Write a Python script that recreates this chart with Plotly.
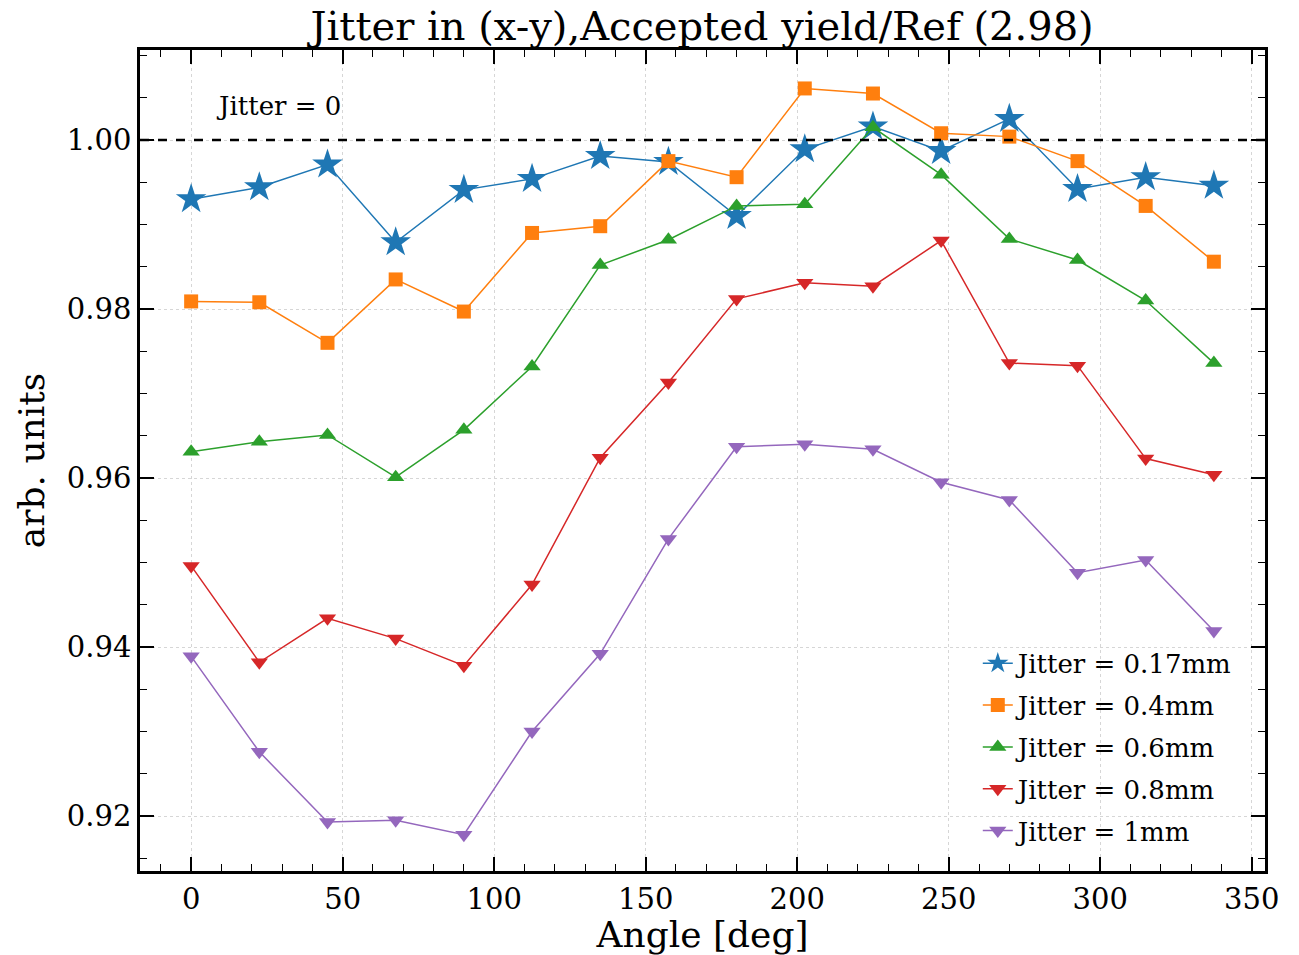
import plotly.graph_objects as go

angles = [0, 22.5, 45, 67.5, 90, 112.5, 135, 157.5, 180, 202.5, 225, 247.5, 270, 292.5, 315, 337.5]

jitter_017 = [0.9930, 0.9944, 0.9971, 0.9879, 0.9941, 0.9954, 0.9981, 0.9974,
              0.9910, 0.9989, 1.0016, 0.9987, 1.0025, 0.9942, 0.9956, 0.9946]
jitter_04 = [0.9809, 0.9808, 0.9760, 0.9835, 0.9797, 0.9890, 0.9898, 0.9975,
             0.9956, 1.0061, 1.0055, 1.0008, 1.0004, 0.9975, 0.9922, 0.9856]
jitter_06 = [0.9631, 0.9643, 0.9651, 0.9601, 0.9657, 0.9732, 0.9852, 0.9882,
             0.9922, 0.9924, 1.0015, 0.9959, 0.9883, 0.9858, 0.9810, 0.9736]
jitter_08 = [0.9496, 0.9382, 0.9434, 0.9410, 0.9378, 0.9474, 0.9624, 0.9713,
             0.9812, 0.9831, 0.9827, 0.9881, 0.9736, 0.9733, 0.9623, 0.9604]
jitter_1 = [0.9389, 0.9276, 0.9193, 0.9195, 0.9178, 0.9300, 0.9392, 0.9528,
            0.9637, 0.9640, 0.9634, 0.9595, 0.9574, 0.9488, 0.9503, 0.9419]

series = [
    ("Jitter = 0.17mm", jitter_017, "#1f77b4", "star", 23),
    ("Jitter = 0.4mm", jitter_04, "#ff7f0e", "square", 14),
    ("Jitter = 0.6mm", jitter_06, "#2ca02c", "triangle-up", 15),
    ("Jitter = 0.8mm", jitter_08, "#d62728", "triangle-down", 15),
    ("Jitter = 1mm", jitter_1, "#9467bd", "triangle-down", 15),
]

FONT = "DejaVu Serif"

fig = go.Figure()
for i, (name, ys, color, sym, size) in enumerate(series):
    fig.add_trace(go.Scatter(
        x=angles, y=ys, name=name, mode="lines+markers", legendgroup=f"g{i}",
        line=dict(color=color, width=1.5),
        marker=dict(symbol=sym, size=size, color=color, line=dict(width=0)),
    ))

fig.add_hline(y=1.0, line=dict(color="black", width=2.5, dash="dash"), layer="above")

fig.add_annotation(x=7.5, y=1.0040, text="Jitter = 0", showarrow=False,
                   xanchor="left", yanchor="middle",
                   font=dict(family=FONT, size=26, color="black"))

axis_common = dict(
    showline=True, linecolor="black", linewidth=2.5, mirror="allticks",
    ticks="inside", ticklen=14, tickwidth=1.5, tickcolor="black",
    showgrid=True, gridcolor="#d6d6d6", griddash="dot", gridwidth=1,
    zeroline=False, automargin=False,
    tickfont=dict(family=FONT, size=29, color="black"),
)

fig.update_xaxes(
    **axis_common,
    range=[-16.875, 354.375], tick0=0, dtick=50,
    minor=dict(ticks="inside", ticklen=7, tickwidth=1.2, tickcolor="black", dtick=10, tick0=0, showgrid=False),
    title=dict(text="Angle [deg]", font=dict(family=FONT, size=36, color="black"), standoff=6),
)
fig.update_yaxes(
    **axis_common,
    range=[0.9135, 1.01065], tick0=0.92, dtick=0.02, tickformat=".2f",
    minor=dict(ticks="inside", ticklen=7, tickwidth=1.2, tickcolor="black", dtick=0.005, tick0=0.92, showgrid=False),
    title=dict(text="arb. units", font=dict(family=FONT, size=36, color="black"), standoff=12),
)

fig.update_layout(
    width=1299, height=955,
    margin=dict(l=140, r=34, t=50, b=84),
    paper_bgcolor="white", plot_bgcolor="white",
    title=dict(text="Jitter in (x-y),Accepted yield/Ref (2.98)", x=0.5405, xanchor="center",
               y=0.973, yanchor="middle",
               font=dict(family=FONT, size=40, color="black")),
    legend=dict(x=0.9767, y=0.2815, xanchor="right", yanchor="top",
                bgcolor="rgba(0,0,0,0)", borderwidth=0,
                font=dict(family=FONT, size=26, color="black"),
                itemsizing="trace", tracegroupgap=5),
    showlegend=True,
)

fig.write_html("out.html")
